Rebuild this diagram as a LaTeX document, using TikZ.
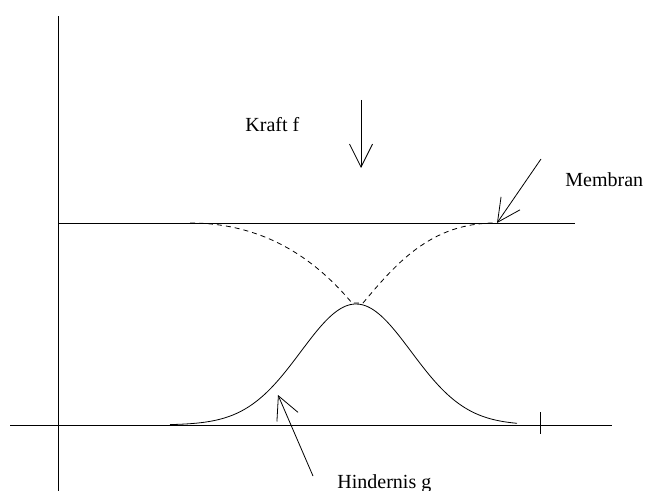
\documentclass[tikz,border=0pt]{standalone}
\usepackage{fontspec}
\setmainfont{Liberation Serif}
\usetikzlibrary{arrows.meta}
\begin{document}
\begin{tikzpicture}[x=1bp, y=-1bp, line width=0.8bp,
	pfeil/.style={-{Straight Barb[length=23bp, width=23bp]}},
	beschriftung/.style={anchor=base west, inner sep=0pt, font=\fontsize{20bp}{24bp}\selectfont}]
	\useasboundingbox (0,0) rectangle (645,491);
	\path 
	(58,16) coordinate (O')
	(58,491) coordinate (O)
	(10,425) coordinate (L)
	(612,425) coordinate (R)
	(58,223) coordinate (M)
	(575,223) coordinate (M')
	(540,412) coordinate (T)
	(540,434) coordinate (T');
	\draw (O)--(O') (L)--(R) (M)--(M') (T)--(T');
	% Hindernis
	\draw plot[domain=170:517, samples=80, smooth] (\x,{425-121*exp(-((\x-356)/78)^2)});
	% Membran unter der Kraft
	\draw[dash pattern=on 5bp off 4bp] (190,223) .. controls (270,223) and (320,265) .. (352,303)
	-- (363,303) .. controls (395,265) and (430,223) .. (495,223);
	% Beschriftungen und Pfeile
	\node[beschriftung] (kraft) at (245,132) {Kraft f};
	\node[beschriftung] (membran) at (565,187) {Membran};
	\node[beschriftung] (hindernis) at (337,488) {Hindernis g};
	\path 
	(361,100) coordinate (F)
	(361,168) coordinate (F')
	(541,159) coordinate (P)
	(497,223) coordinate (P')
	(313,476) coordinate (H)
	(278,395) coordinate (H');
	\foreach \a/\b in {F/F', P/P', H/H'}
	\draw[pfeil] (\a)--(\b);
\end{tikzpicture}
\end{document}
